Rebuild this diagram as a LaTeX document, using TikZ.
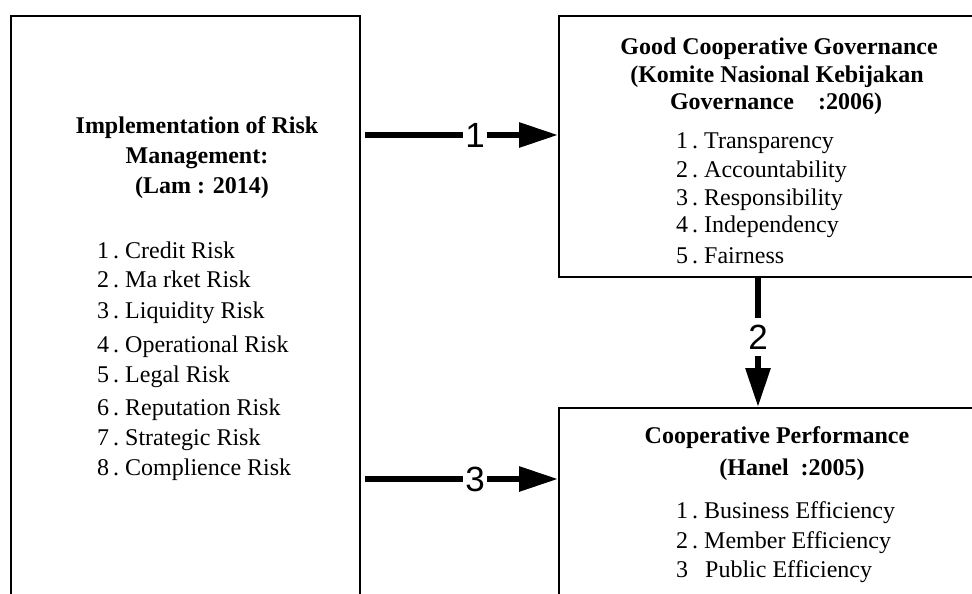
\documentclass[tikz,border=0pt]{standalone}
\usepackage{fontspec}
\setmainfont{Liberation Serif}
\newfontfamily\numfont{Liberation Sans}
\usetikzlibrary{arrows.meta}

\begin{document}
\begin{tikzpicture}[x=1pt, y=-1pt,
  box/.style={draw, line width=1.8pt, anchor=north west, inner sep=0pt},
  head/.style={font=\bfseries\fontsize{24}{30}\selectfont, inner sep=0pt, anchor=base},
  item/.style={font=\fontsize{24}{30}\selectfont, inner sep=0pt, anchor=base west},
  flow/.style={line width=6pt, -{Triangle[length=39pt, width=24pt]}},
  num/.style={font=\numfont\fontsize{35}{35}\selectfont, fill=white, inner xsep=2pt, inner ysep=7pt},
]

\clip (0,0) rectangle (972,594);

\node (risk) [box, minimum width=349pt, minimum height=700pt] at (10,15) {};
\node (gcg) [box, minimum width=460pt, minimum height=261pt] at (558,15) {};
\node (perf) [box, minimum width=460pt, minimum height=300pt] at (558,407) {};

% left box
\foreach \x/\y/\t [count=\i] in {197/133/Implementation of Risk, 197/163/Management:, 202/193/(Lam : 2014)}
  \node (rt\i) [head] at (\x,\y) {\t};

\foreach \y/\t [count=\i] in {258/Credit Risk, 287/Ma rket Risk, 318/Liquidity Risk, 352/Operational Risk, 382/Legal Risk, 415/Reputation Risk, 445/Strategic Risk, 475/Complience Risk}
  \node (ri\i) [item] at (97,\y) {\i\,.\ \t};

% governance box
\foreach \x/\y/\t [count=\i] in {779/55/Good Cooperative Governance, 777/82/(Komite Nasional Kebijakan, 776/110/Governance\hspace{24pt}:2006)}
  \node (gt\i) [head] at (\x,\y) {\t};

\foreach \y/\t [count=\i] in {148/Transparency, 177/Accountability, 205/Responsibility, 232/Independency, 263/Fairness}
  \node (gi\i) [item] at (676,\y) {\i\,.\ \t};

% performance box
\node (pt1) [head] at (777,443) {Cooperative Performance};
\node (pt2) [head] at (792,475) {(Hanel\ \ :2005)};

\foreach \y/\t [count=\i] in {518/Business Efficiency, 548/Member Efficiency}
  \node (pi\i) [item] at (676,\y) {\i\,.\ \t};
\node (pi3) [item] at (676,577) {3\hspace{17pt}Public Efficiency};

\draw [flow, shorten <=4pt] (risk.east |- 0,135) -- node (l1) [num, pos=0.58] {1} (gcg.west |- 0,135);
\draw [flow] (758,0 |- gcg.south) -- node (l2) [num, pos=0.46] {2} (758,0 |- perf.north);
\draw [flow, shorten <=4pt] (risk.east |- 0,479) -- node (l3) [num, pos=0.58] {3} (perf.west |- 0,479);

\end{tikzpicture}
\end{document}
